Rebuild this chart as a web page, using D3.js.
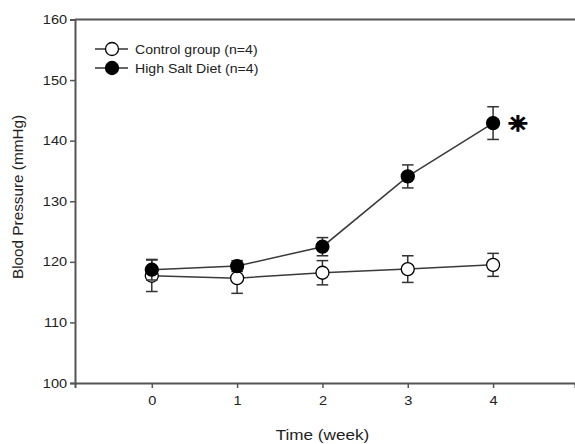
<!DOCTYPE html>
<html>
<head>
<meta charset="utf-8">
<script src="https://cdn.jsdelivr.net/npm/d3@7"></script>
<style>
  body { margin: 0; background: #fff; }
  svg { display: block; }
  text { font-family: "Liberation Sans", Arial, sans-serif; fill: #222; }
</style>
</head>
<body>
<div id="chart"></div>
<script>
const weeks = [0, 1, 2, 3, 4];
const controlMean = [117.7, 117.3, 118.2, 118.8, 119.5];
const controlErr = [2.6, 2.5, 2.0, 2.2, 1.9];
const saltMean = [118.7, 119.3, 122.5, 134.1, 142.9];
const saltErr = [1.7, 0.9, 1.5, 1.9, 2.7];
const yTicks = [100, 110, 120, 130, 140, 150, 160];
const seriesNames = ['Control group (n=4)', 'High Salt Diet (n=4)'];
const seriesFill = ['#fff', '#000'];

const width = 575, height = 444;
const stretch = 1.12; // the picture is a bit wider than tall

const svg = d3.select('#chart').append('svg')
    .attr('width', width)
    .attr('height', height);

const x = d3.scaleLinear().domain([-0.9, 4.96]).range([75, 575]);
const y = d3.scaleLinear().domain([100, 160]).range([383, 19.5]);

// frame top line
svg.append('line')
    .attr('x1', x.range()[0]).attr('x2', x.range()[1])
    .attr('y1', y(160)).attr('y2', y(160))
    .attr('stroke', '#555').attr('stroke-width', 2);

const xAxis = svg.append('g')
    .attr('transform', `translate(0,${y(100)})`)
    .call(d3.axisBottom(x).tickValues(weeks).tickFormat(d3.format('d')).tickSize(5).tickPadding(8));

const yAxis = svg.append('g')
    .attr('transform', `translate(${x.range()[0]},0)`)
    .call(d3.axisLeft(y).tickValues(yTicks).tickSize(5).tickPadding(8));

[xAxis, yAxis].forEach(function(ax) {
    ax.select('.domain').attr('stroke', '#555').attr('stroke-width', 2);
    ax.selectAll('.tick line').attr('stroke', '#555').attr('stroke-width', 1.5);
    ax.selectAll('.tick text')
        .attr('font-size', 13)
        .attr('font-family', '"Liberation Sans", Arial, sans-serif')
        .attr('fill', '#222');
});
xAxis.selectAll('.tick text').attr('transform', `scale(${stretch},1)`);
yAxis.selectAll('.tick text').attr('transform', `scale(${stretch},1)`).attr('x', -7);

// axis titles
svg.append('text')
    .attr('transform', `translate(${(x(0) + x(4)) / 2},440) scale(${stretch},1)`)
    .attr('text-anchor', 'middle')
    .attr('font-size', 15.3)
    .text('Time (week)');

svg.append('text')
    .attr('transform', 'translate(23,197) rotate(-90)')
    .attr('text-anchor', 'middle')
    .attr('font-size', 15.3)
    .text('Blood Pressure (mmHg)');

const series = [
    { mean: controlMean, err: controlErr, fill: seriesFill[0] },
    { mean: saltMean, err: saltErr, fill: seriesFill[1] }
];

const line = d3.line()
    .x(function(d) { return x(d.week); })
    .y(function(d) { return y(d.value); });

function points(s) {
    return weeks.map(function(w, i) { return { week: w, value: s.mean[i], err: s.err[i] }; });
}

series.forEach(function(s) {
    svg.append('path')
        .datum(points(s))
        .attr('d', line)
        .attr('fill', 'none')
        .attr('stroke', '#3a3a3a')
        .attr('stroke-width', 1.5);
});

const cap = 5.8;
series.forEach(function(s) {
    const g = svg.append('g');
    const pts = points(s);
    const bars = g.selectAll('g.err')
        .data(pts)
        .enter()
        .append('g')
        .attr('class', 'err')
        .attr('stroke', '#333')
        .attr('stroke-width', 1.5);
    bars.append('line')
        .attr('x1', function(d) { return x(d.week); })
        .attr('x2', function(d) { return x(d.week); })
        .attr('y1', function(d) { return y(d.value - d.err); })
        .attr('y2', function(d) { return y(d.value + d.err); });
    [1, -1].forEach(function(sign) {
        bars.append('line')
            .attr('x1', function(d) { return x(d.week) - cap; })
            .attr('x2', function(d) { return x(d.week) + cap; })
            .attr('y1', function(d) { return y(d.value + sign * d.err); })
            .attr('y2', function(d) { return y(d.value + sign * d.err); });
    });
    g.selectAll('circle')
        .data(pts)
        .enter()
        .append('circle')
        .attr('cx', function(d) { return x(d.week); })
        .attr('cy', function(d) { return y(d.value); })
        .attr('r', 6.5)
        .attr('fill', s.fill)
        .attr('stroke', '#000')
        .attr('stroke-width', 1.3);
});

// significance mark
svg.append('text')
    .attr('transform', `translate(${x(4) + 24},${y(saltMean[4]) + 8}) scale(${stretch},1)`)
    .attr('text-anchor', 'middle')
    .attr('font-size', 21)
    .attr('font-family', '"DejaVu Sans"')
    .attr('fill', '#000')
    .attr('stroke', '#000')
    .attr('stroke-width', 1.6)
    .text('\u2733\uFE0E');

// legend
const legend = svg.append('g');
const legendRows = legend.selectAll('g')
    .data(seriesNames)
    .enter()
    .append('g')
    .attr('transform', function(d, i) { return `translate(0,${49 + i * 19})`; });
legendRows.append('line')
    .attr('x1', 95).attr('x2', 128)
    .attr('stroke', '#333').attr('stroke-width', 1.5);
legendRows.append('circle')
    .attr('cx', 112).attr('r', 6.5)
    .attr('fill', function(d, i) { return seriesFill[i]; })
    .attr('stroke', '#000').attr('stroke-width', 1.3);
legendRows.append('text')
    .attr('transform', `translate(135,4.5) scale(${stretch},1)`)
    .attr('font-size', 12.6)
    .text(function(d) { return d; });
</script>
</body>
</html>
